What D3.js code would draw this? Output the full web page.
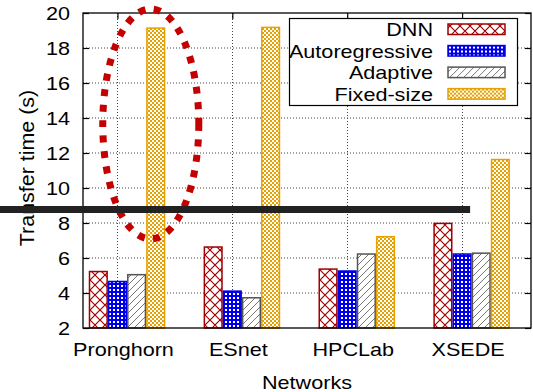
<!DOCTYPE html>
<html>
<head>
<meta charset="utf-8">
<script src="https://cdn.jsdelivr.net/npm/d3@7"></script>
<style>
  body { margin: 0; background: #fff; }
  text { font-family: "Liberation Sans", Arial, Helvetica, sans-serif; fill: #000; }
</style>
</head>
<body>
<div id="chart"></div>
<script>

// data
var networks = ["Pronghorn", "ESnet", "HPCLab", "XSEDE"];
var seriesNames = ["DNN", "Autoregressive", "Adaptive", "Fixed-size"];
var dnn = [5.27, 6.67, 5.41, 8.02];
var autoregressive = [4.70, 4.15, 5.30, 6.27];
var adaptive = [5.09, 3.77, 6.27, 6.32];
var fixedSize = [19.18, 19.22, 7.26, 11.67];
var yTicks = [2, 4, 6, 8, 10, 12, 14, 16, 18, 20];

var allSeries = [dnn, autoregressive, adaptive, fixedSize];
var fills = ["url(#pDnn)", "url(#pAuto)", "url(#pAdapt)", "url(#pFixed)"];
var strokes = ["#a00000", "#0000e6", "#555555", "#e6a000"];

// set the dimensions of the plot box
var W = 533, H = 392;
var plot = {left: 83, right: 531, top: 13, bottom: 328};

var svg = d3.select("#chart")
  .append("svg")
    .attr("width", W)
    .attr("height", H);

// group index -> pixel (gnuplot style: tick sits on the 2nd bar)
var x = d3.scaleLinear()
  .domain([-0.3, 3.6])
  .range([plot.left, plot.right]);

var y = d3.scaleLinear()
  .domain([2, 20])
  .range([plot.bottom, plot.top]);

var slot = x(1 / 6) - x(0);

// fill patterns
var defs = svg.append("defs");

var p1 = defs.append("pattern").attr("id", "pDnn")
  .attr("patternUnits", "userSpaceOnUse").attr("width", 10).attr("height", 10);
p1.append("rect").attr("width", 10).attr("height", 10).attr("fill", "#fff");
p1.append("path").attr("d", "M0,0L10,10M10,0L0,10")
  .attr("stroke", "#a00000").attr("stroke-width", 1.2);

var p2 = defs.append("pattern").attr("id", "pAuto")
  .attr("patternUnits", "userSpaceOnUse").attr("width", 4).attr("height", 4);
p2.append("rect").attr("width", 4).attr("height", 4).attr("fill", "#0000e6");
p2.append("rect").attr("x", 1).attr("y", 1).attr("width", 2).attr("height", 2).attr("fill", "#fff");

var p3 = defs.append("pattern").attr("id", "pAdapt")
  .attr("patternUnits", "userSpaceOnUse").attr("width", 7).attr("height", 7);
p3.append("rect").attr("width", 7).attr("height", 7).attr("fill", "#fff");
p3.append("path").attr("d", "M0,7L7,0M-1,1L1,-1M6,8L8,6")
  .attr("stroke", "#777").attr("stroke-width", 1);

var p4 = defs.append("pattern").attr("id", "pFixed")
  .attr("patternUnits", "userSpaceOnUse").attr("width", 4).attr("height", 4);
p4.append("rect").attr("width", 4).attr("height", 4).attr("fill", "#e6a000");
p4.append("rect").attr("x", 0).attr("y", 0).attr("width", 2).attr("height", 2).attr("fill", "#fff");
p4.append("rect").attr("x", 2).attr("y", 2).attr("width", 2).attr("height", 2).attr("fill", "#fff");

// grid
svg.append("g")
  .selectAll("line")
  .data(yTicks.slice(1, -1))
  .enter()
  .append("line")
    .attr("x1", plot.left).attr("x2", plot.right)
    .attr("y1", function(d) { return y(d); })
    .attr("y2", function(d) { return y(d); })
    .attr("stroke", "#444").attr("stroke-width", 1)
    .attr("stroke-dasharray", "1,2");

svg.append("g")
  .selectAll("line")
  .data(d3.range(networks.length))
  .enter()
  .append("line")
    .attr("x1", function(d) { return Math.round(x(d)) + 0.5; })
    .attr("x2", function(d) { return Math.round(x(d)) + 0.5; })
    .attr("y1", plot.top).attr("y2", plot.bottom)
    .attr("stroke", "#444").attr("stroke-width", 1)
    .attr("stroke-dasharray", "1,2");

// bars
allSeries.forEach(function(vals, j) {
  svg.append("g")
    .selectAll("rect")
    .data(vals)
    .enter()
    .append("rect")
      .attr("x", function(d, i) { return x(i) + (j - 1.5) * slot + 0.75; })
      .attr("width", slot - 1.5)
      .attr("y", function(d) { return y(d) + 0.75; })
      .attr("height", function(d) { return y(2) - y(d) - 0.75; })
      .attr("fill", fills[j])
      .attr("stroke", strokes[j])
      .attr("stroke-width", 1.5);
});

// border + ticks
var yAxisL = d3.axisLeft(y).tickValues(yTicks).tickSize(-6).tickPadding(0);
var gy = svg.append("g")
  .attr("transform", "translate(" + plot.left + ",0)")
  .call(yAxisL);
gy.select(".domain").remove();
gy.selectAll("line").attr("stroke", "#000").attr("stroke-width", 1.2);
gy.selectAll("text")
  .attr("x", null).attr("dy", null)
  .attr("text-anchor", "end")
  .attr("font-size", 18)
  .attr("transform", "translate(-13,6.5) scale(1.2,1)");

var gyR = svg.append("g")
  .attr("transform", "translate(" + plot.right + ",0)")
  .call(d3.axisRight(y).tickValues(yTicks).tickSize(-6).tickFormat(""));
gyR.select(".domain").remove();
gyR.selectAll("line").attr("stroke", "#000").attr("stroke-width", 1.2);

var gxT = svg.append("g")
  .attr("transform", "translate(0," + plot.top + ")")
  .call(d3.axisTop(x).tickValues(d3.range(networks.length)).tickSize(-6).tickFormat(""));
gxT.select(".domain").remove();
gxT.selectAll("line").attr("stroke", "#000").attr("stroke-width", 1.2);

svg.append("rect")
  .attr("x", plot.left).attr("y", plot.top)
  .attr("width", plot.right - plot.left).attr("height", plot.bottom - plot.top)
  .attr("fill", "none").attr("stroke", "#000").attr("stroke-width", 1.3);

// x labels
svg.append("g")
  .selectAll("text")
  .data(networks)
  .enter()
  .append("text")
    .attr("text-anchor", "middle")
    .attr("font-size", 18)
    .attr("transform", function(d, i) { return "translate(" + (x(i) + 6) + ",356) scale(1.2,1)"; })
    .text(function(d) { return d; });

svg.append("text")
  .attr("text-anchor", "middle")
  .attr("font-size", 18)
  .attr("transform", "translate(" + ((plot.left + plot.right) / 2) + ",389) scale(1.2,1)")
  .text("Networks");

svg.append("text")
  .attr("text-anchor", "middle")
  .attr("font-size", 19.5)
  .attr("transform", "translate(34,168) rotate(-90) scale(1.1,1)")
  .text("Transfer time (s)");

// legend
var legend = svg.append("g");
legend.append("rect")
  .attr("x", 289.5).attr("y", 18.5).attr("width", 228).attr("height", 87)
  .attr("fill", "#fff").attr("stroke", "#000").attr("stroke-width", 1.2);

var items = legend.selectAll("g.item")
  .data(seriesNames)
  .enter()
  .append("g")
    .attr("class", "item")
    .attr("transform", function(d, i) { return "translate(0," + (36 + i * 21.55) + ")"; });

items.append("text")
  .attr("text-anchor", "end")
  .attr("font-size", 18)
  .attr("transform", "translate(433,0) scale(1.2,1)")
  .text(function(d) { return d; });

items.append("rect")
  .attr("x", 448).attr("y", -12).attr("width", 57).attr("height", 10.5)
  .attr("fill", function(d, i) { return fills[i]; })
  .attr("stroke", function(d, i) { return strokes[i]; })
  .attr("stroke-width", 1.5);

// annotations drawn on top: red dotted ellipse and dark horizontal bar
var ring = {group: 0.29, value: 13.66, rx: 0.418, ry: 6.57};
svg.append("ellipse")
  .attr("cx", x(ring.group))
  .attr("cy", y(ring.value))
  .attr("rx", x(ring.rx) - x(0))
  .attr("ry", y(0) - y(ring.ry))
  .attr("fill", "none")
  .attr("stroke", "#c40000")
  .attr("stroke-width", 7)
  .attr("stroke-dasharray", "7,8.5");

var bar = {value: 8.77, toGroup: 3.07};
svg.append("line")
  .attr("x1", 0).attr("x2", x(bar.toGroup))
  .attr("y1", y(bar.value)).attr("y2", y(bar.value))
  .attr("stroke", "#222").attr("stroke-width", 7);

</script>
</body>
</html>
